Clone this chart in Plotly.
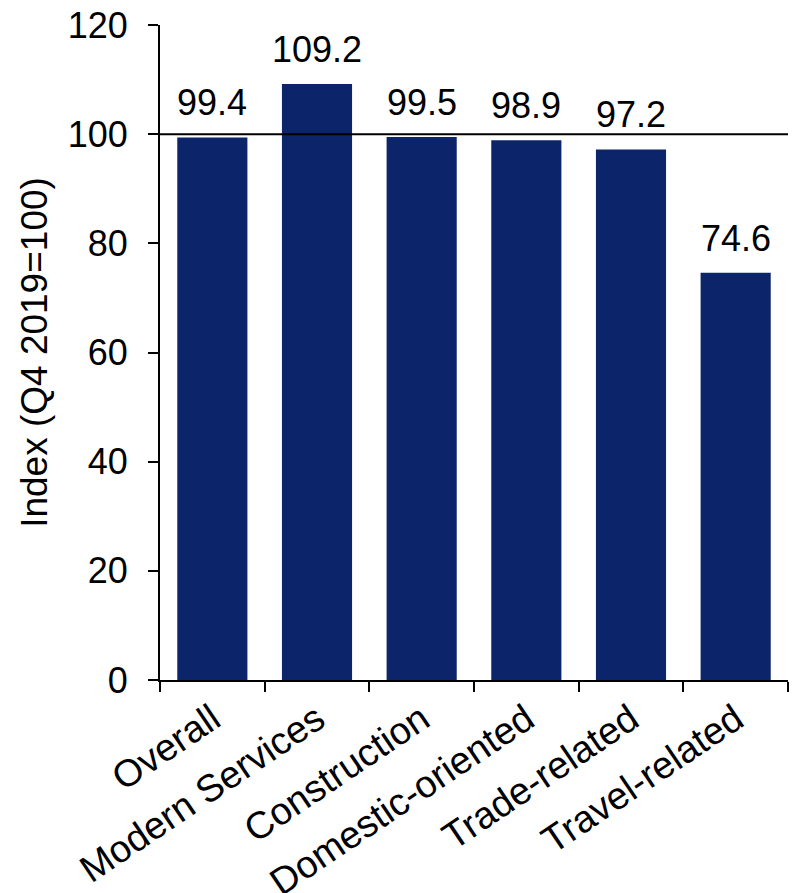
import plotly.graph_objects as go

categories = ["Overall", "Modern Services", "Construction", "Domestic-oriented", "Trade-related", "Travel-related"]
values = [99.4, 109.2, 99.5, 98.9, 97.2, 74.6]
y_ticks = [0, 20, 40, 60, 80, 100, 120]
reference_level = 100

FONT = "Liberation Sans, Arial, sans-serif"
BAR_COLOR = "#0c246a"

fig = go.Figure(
    go.Bar(
        x=categories,
        y=values,
        marker=dict(color=BAR_COLOR, line=dict(width=0)),
        hoverinfo="x+y",
    )
)

for cat, val in zip(categories, values):
    fig.add_annotation(
        x=cat, y=val, xref="x", yref="y",
        text=f"{val:.1f}", showarrow=False,
        yanchor="bottom", yshift=12,
        font=dict(family=FONT, size=36, color="black"),
    )

fig.add_shape(
    type="line", xref="paper", yref="y", x0=0, x1=1,
    y0=reference_level, y1=reference_level,
    line=dict(color="black", width=2), layer="above",
)

fig.update_layout(
    width=800, height=893,
    margin=dict(l=160, r=12, t=25, b=213),
    plot_bgcolor="white", paper_bgcolor="white",
    bargap=0.33,
    showlegend=False,
    font=dict(family=FONT, size=36, color="black"),
    xaxis=dict(
        automargin=False,
        showline=True, linecolor="black", linewidth=2,
        ticks="outside", ticklen=10, tickwidth=2, tickcolor="black",
        tickson="boundaries", tickangle=-34,
        tickfont=dict(family=FONT, size=38, color="black"),
        showgrid=False, zeroline=False,
    ),
    yaxis=dict(
        automargin=False,
        range=[0, 120], tickvals=y_ticks,
        showline=True, linecolor="black", linewidth=2,
        ticks="outside", ticklen=10, tickwidth=2, tickcolor="black",
        ticklabelstandoff=13,
        tickfont=dict(family=FONT, size=36, color="black"),
        showgrid=False, zeroline=False,
        title=dict(text="Index (Q4 2019=100)", font=dict(family=FONT, size=37, color="black"), standoff=9),
    ),
)

fig.write_html("out.html")
